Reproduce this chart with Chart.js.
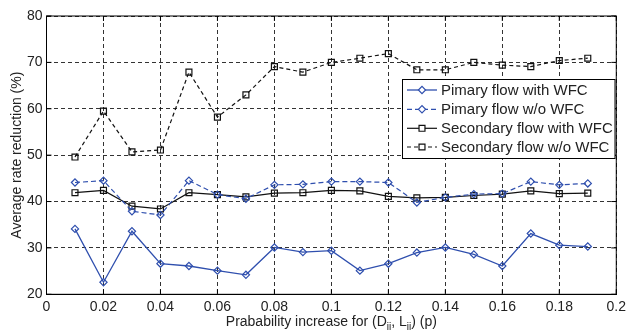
<!DOCTYPE html>
<html><head><meta charset="utf-8">
<script src="https://cdn.jsdelivr.net/npm/chart.js@4"></script>
<style>html,body{margin:0;padding:0;background:#fff}</style>
</head><body>
<canvas id="c" width="630" height="334" style="width:630px;height:334px;display:block"></canvas>
<script>
const pValues = [0.01,0.02,0.03,0.04,0.05,0.06,0.07,0.08,0.09,0.10,0.11,0.12,0.13,0.14,0.15,0.16,0.17,0.18,0.19];
const primaryWithWFC = [34.1,22.6,33.6,26.6,26.1,25.1,24.2,30.1,29.1,29.4,25.1,26.6,29.0,30.1,28.6,26.1,33.1,30.6,30.3];
const primaryWithoutWFC = [44.1,44.5,37.9,37.1,44.5,41.5,40.6,43.6,43.7,44.3,44.3,44.1,39.8,40.9,41.6,41.7,44.3,43.6,43.9];
const secondaryWithWFC = [41.9,42.4,39.0,38.4,41.9,41.5,41.0,41.8,41.9,42.4,42.3,41.1,40.8,40.9,41.3,41.6,42.3,41.7,41.8];
const secondaryWithoutWFC = [49.6,59.5,50.7,51.1,67.9,58.2,63.0,69.1,67.9,70.0,70.9,71.9,68.4,68.4,70.0,69.4,69.1,70.4,70.9];
const seriesLabels = ['Pimary flow with WFC','Pimary flow w/o WFC','Secondary flow with WFC','Secondary flow w/o WFC'];
const xTicks = [0,0.02,0.04,0.06,0.08,0.1,0.12,0.14,0.16,0.18,0.2];
const yTicks = [20,30,40,50,60,70,80];
const yTitle = 'Average rate reduction (%)';

const BLUE = '#2f4fae';
const FONT = '"Liberation Sans", Arial, sans-serif';

function pts(vals){ return vals.map((v,i)=>({x:pValues[i], y:v})); }

const styles = [
  {color:BLUE, dash:[], shape:'rectRot', r:3.6, w:1.3},
  {color:BLUE, dash:[5,3], shape:'rectRot', r:3.6, w:1.2},
  {color:'#111', dash:[], shape:'rect', r:4.2, w:1.2},
  {color:'#111', dash:[4,3], shape:'rect', r:4.2, w:1.2}
];
const allData = [primaryWithWFC, primaryWithoutWFC, secondaryWithWFC, secondaryWithoutWFC];

const datasets = allData.map((d,i)=>({
  label: seriesLabels[i],
  data: pts(d),
  borderColor: styles[i].color,
  borderWidth: styles[i].w,
  borderDash: styles[i].dash,
  pointStyle: styles[i].shape,
  pointRadius: styles[i].r,
  pointBorderColor: styles[i].color,
  pointBackgroundColor: 'rgba(0,0,0,0)',
  pointBorderWidth: 1.2,
  tension: 0,
  fill: false
}));

const framePlugin = {
  id: 'frame',
  afterDraw(chart){
    const ctx = chart.ctx, a = chart.chartArea;
    const xs = chart.scales.x, ys = chart.scales.y;
    ctx.save();
    ctx.strokeStyle = '#000'; ctx.lineWidth = 1; ctx.setLineDash([]);
    ctx.strokeRect(a.left, a.top, a.right - a.left, a.bottom - a.top);
    const tl = 5;
    ctx.beginPath();
    xTicks.forEach(v=>{
      const px = xs.getPixelForValue(v);
      ctx.moveTo(px, a.bottom); ctx.lineTo(px, a.bottom - tl);
      ctx.moveTo(px, a.top); ctx.lineTo(px, a.top + tl);
    });
    yTicks.forEach(v=>{
      const py = ys.getPixelForValue(v);
      ctx.moveTo(a.left, py); ctx.lineTo(a.left + tl, py);
      ctx.moveTo(a.right, py); ctx.lineTo(a.right - tl, py);
    });
    ctx.stroke();

    // legend
    const lx = 402.5, ly = 79.5, lw = 212.5, lh = 79;
    ctx.fillStyle = '#fff';
    ctx.fillRect(lx, ly, lw, lh);
    ctx.strokeStyle = '#000'; ctx.lineWidth = 1;
    ctx.strokeRect(lx, ly, lw, lh);
    const rows = [90, 109.3, 128.3, 147];
    seriesLabels.forEach((lab,i)=>{
      const s = styles[i], y = rows[i];
      ctx.strokeStyle = s.color; ctx.lineWidth = s.w;
      ctx.setLineDash(s.dash);
      ctx.beginPath(); ctx.moveTo(407, y); ctx.lineTo(437, y); ctx.stroke();
      ctx.setLineDash([]);
      ctx.lineWidth = 1.2;
      ctx.fillStyle = '#fff';
      Chart.helpers.drawPoint(ctx, {pointStyle:s.shape, radius:s.r, rotation:0, borderWidth:1.2}, 422, y);
      ctx.font = '15px ' + FONT;
      ctx.textBaseline = 'middle';
      ctx.textAlign = 'left';
      ctx.fillStyle = '#222';
      ctx.fillText(lab, 441, y + 0.5);
    });

    // x title with subscripts
    const big = '14px ' + FONT, small = '10px ' + FONT;
    const parts = [
      ['Prabability increase for (D', big, 0],
      ['ii', small, 4],
      [', L', big, 0],
      ['ii', small, 4],
      [') (p)', big, 0]
    ];
    let total = 0;
    parts.forEach(p=>{ ctx.font = p[1]; total += ctx.measureText(p[0]).width; });
    let x = (a.left + a.right)/2 - total/2;
    const by = 326;
    ctx.fillStyle = '#222';
    ctx.textBaseline = 'alphabetic';
    ctx.textAlign = 'left';
    parts.forEach(p=>{
      ctx.font = p[1];
      ctx.fillText(p[0], x, by + p[2]);
      x += ctx.measureText(p[0]).width;
    });
    ctx.restore();
  }
};

new Chart(document.getElementById('c'), {
  type: 'line',
  data: { datasets },
  options: {
    responsive: false,
    animation: false,
    layout: { padding: { top: 16, right: 10, left: 0, bottom: 0 } },
    plugins: { legend: { display: false }, tooltip: { enabled: false } },
    scales: {
      x: {
        type: 'linear', min: 0, max: 0.2,
        afterFit(s){ s.height = 39.7; },
        afterBuildTicks(s){ s.ticks = xTicks.map(v=>({value:v})); },
        ticks: {
          color: '#222', padding: 4,
          font: { family: FONT, size: 14 },
          maxRotation: 0, autoSkip: false,
          callback: v => String(Number(v.toFixed(2)))
        },
        grid: { color: 'rgba(0,0,0,0.8)', lineWidth: 1, drawTicks: false },
        border: { display: true, color: '#000', width: 1, dash: [4,3] }
      },
      y: {
        type: 'linear', min: 20, max: 80,
        afterFit(s){ s.width = 46.5; },
        afterBuildTicks(s){ s.ticks = yTicks.map(v=>({value:v})); },
        ticks: {
          color: '#222', padding: 4,
          font: { family: FONT, size: 14 },
          autoSkip: false
        },
        grid: { color: 'rgba(0,0,0,0.8)', lineWidth: 1, drawTicks: false },
        border: { display: true, color: '#000', width: 1, dash: [4,3] },
        title: { display: true, text: yTitle, color: '#222', font: { family: FONT, size: 14 }, padding: { top: 9, bottom: 0 } }
      }
    }
  },
  plugins: [framePlugin]
});
</script>
</body></html>
